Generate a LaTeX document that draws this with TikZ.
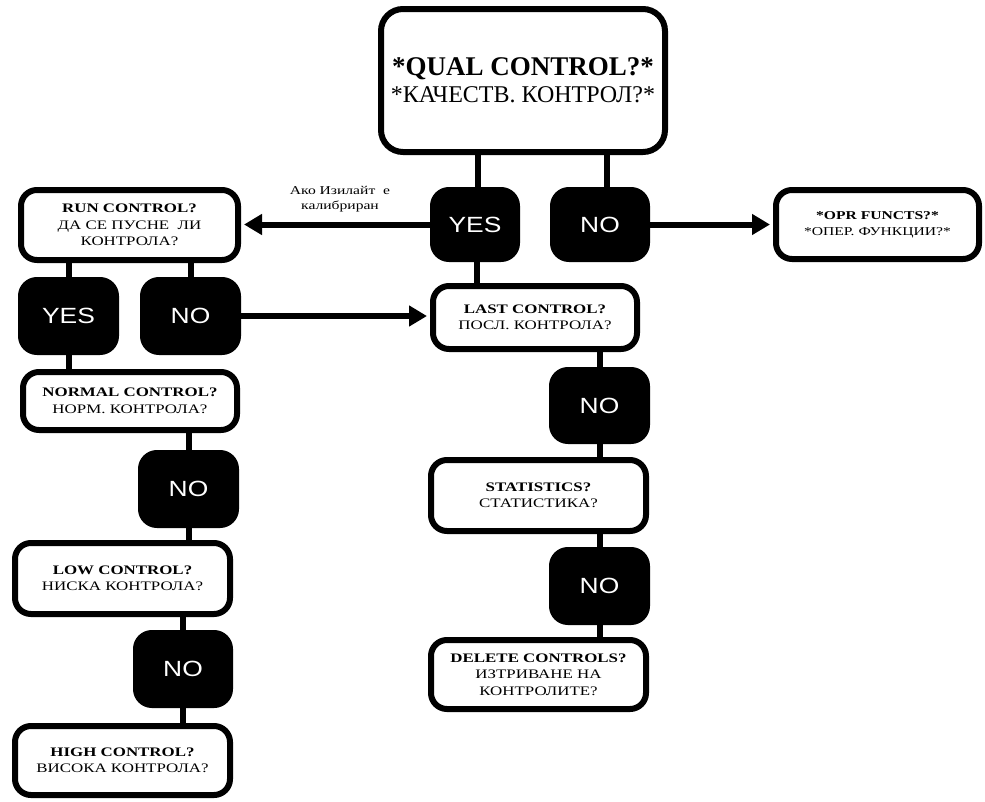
\documentclass[tikz,border=0pt]{standalone}
\usepackage{fontspec}
\setmainfont{Liberation Serif}
\newfontfamily\boxfont[FakeStretch=1.3]{Liberation Serif}
\newfontfamily\ansfont[FakeStretch=1.2]{Liberation Sans}
\usetikzlibrary{arrows.meta}
\begin{document}
\begin{tikzpicture}[x=1pt,y=-1pt,
  qbox/.style={draw, line width=6pt, rounded corners=16pt, fill=white,
    align=center, inner sep=0pt,
    font=\boxfont\fontsize{13}{16.5}\selectfont},
  ans/.style={draw, fill=black, line width=6pt, rounded corners=16pt,
    text=white, inner sep=0pt, font=\ansfont\fontsize{22}{22}\selectfont},
  link/.style={line width=6pt},
  arr/.style={line width=6pt, -{Triangle[length=18pt,width=20pt]}},
]
\useasboundingbox (0,0) rectangle (985,801);

% main question
\node[qbox, rounded corners=22pt, minimum width=284pt, minimum height=143pt,
  font=\fontsize{24}{27}\selectfont] (top) at (523,80.5)
  {{\fontsize{27}{27}\selectfont\bfseries *QUAL CONTROL?*}\\*КАЧЕСТВ. КОНТРОЛ?*};

% first answers
\node[ans, minimum width=84pt, minimum height=69pt] (yes1) at (475,224.5) {YES};
\node[ans, minimum width=94pt, minimum height=69pt] (no1) at (600,224.5) {NO};

\node[qbox, minimum width=203pt, minimum height=69pt,
  font=\boxfont\fontsize{12}{16}\selectfont] (opr) at (877.5,224.5)
  {\textbf{*OPR FUNCTS?*}\\*ОПЕР. ФУНКЦИИ?*};

% left branch
\node[qbox, minimum width=217pt, minimum height=70pt] (run) at (129.5,225)
  {\textbf{RUN CONTROL?}\\ДА СЕ ПУСНЕ\ \ ЛИ\\КОНТРОЛА?};
\node[ans, minimum width=95pt, minimum height=72pt] (yes2) at (68.5,316) {YES};
\node[ans, minimum width=95pt, minimum height=72pt] (no2) at (190.5,316) {NO};

\node[qbox, minimum width=214pt, minimum height=58pt] (norm) at (130,401)
  {\textbf{NORMAL CONTROL?}\\НОРМ. КОНТРОЛА?};
\node[ans, minimum width=95pt, minimum height=72pt] (no5) at (188.5,489) {NO};
\node[qbox, minimum width=215pt, minimum height=71pt] (low) at (122.5,578.5)
  {\textbf{LOW CONTROL?}\\НИСКА КОНТРОЛА?};
\node[ans, minimum width=94pt, minimum height=72pt] (no6) at (183,669) {NO};
\node[qbox, minimum width=215pt, minimum height=69pt] (high) at (122.5,760.5)
  {\textbf{HIGH CONTROL?}\\ВИСОКА КОНТРОЛА?};

% middle branch
\node[qbox, minimum width=204pt, minimum height=63pt] (last) at (535,317.5)
  {\textbf{LAST CONTROL?}\\ПОСЛ. КОНТРОЛА?};
\node[ans, minimum width=95pt, minimum height=71pt] (no3) at (599.5,405.5) {NO};
\node[qbox, minimum width=215pt, minimum height=71pt] (stat) at (538.5,495.5)
  {\textbf{STATISTICS?}\\СТАТИСТИКА?};
\node[ans, minimum width=95pt, minimum height=72pt] (no4) at (599.5,586) {NO};
\node[qbox, minimum width=215pt, minimum height=69pt] (del) at (538.5,674.5)
  {\textbf{DELETE CONTROLS?}\\ИЗТРИВАНЕ НА\\КОНТРОЛИТЕ?};

% arrow label
\node[align=center, inner sep=0pt, font=\boxfont\fontsize{12}{15}\selectfont]
  (cond) at (340,199) {Ако Изилайт\ \ е\\калибриран};

% connectors
\draw[link] ([xshift=3pt]yes1.north |- top.south) -- ([xshift=3pt]yes1.north);
\draw[link] ([xshift=7pt]no1.north |- top.south) -- ([xshift=7pt]no1.north);
\draw[arr] (yes1.west) -- ([xshift=3pt]run.east |- yes1.west);
\draw[arr] (no1.east) -- ([xshift=-3pt]opr.west |- no1.east);

\draw[link] (yes2.north |- run.south) -- (yes2.north);
\draw[link] (no2.north |- run.south) -- (no2.north);
\draw[arr] (no2.east) -- ([xshift=-3pt]last.west |- no2.east);
\draw[link] ([xshift=2pt]yes1.south) -- ([xshift=2pt]yes1.south |- last.north);

\draw[link] (no3.north |- last.south) -- (no3.north);
\draw[link] (no3.south) -- (no3.south |- stat.north);
\draw[link] (no4.north |- stat.south) -- (no4.north);
\draw[link] (no4.south) -- (no4.south |- del.north);

\draw[link] (yes2.south) -- (yes2.south |- norm.north);
\draw[link] (no5.north |- norm.south) -- (no5.north);
\draw[link] (no5.south) -- (no5.south |- low.north);
\draw[link] (no6.north |- low.south) -- (no6.north);
\draw[link] (no6.south) -- (no6.south |- high.north);
\end{tikzpicture}
\end{document}
